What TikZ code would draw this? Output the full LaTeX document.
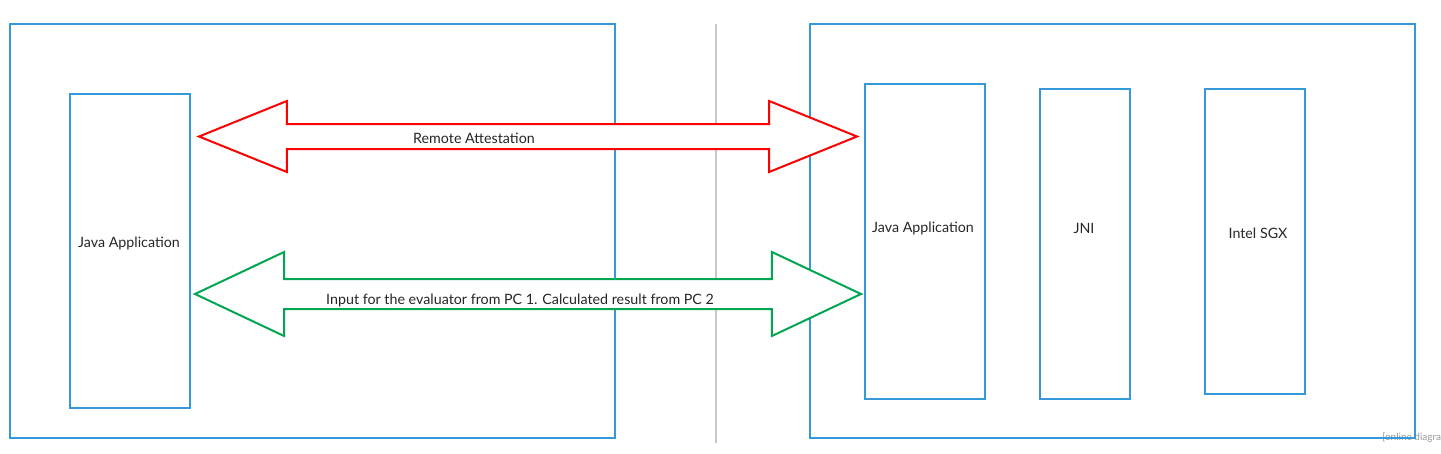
\documentclass[tikz,border=0pt]{standalone}
\usepackage{fontspec}
\setmainfont{Lato}
\usetikzlibrary{shapes.arrows}
\definecolor{boxblue}{HTML}{3498DB}
\definecolor{linkred}{HTML}{FF0000}
\definecolor{linkgreen}{HTML}{00A650}
\definecolor{divgray}{HTML}{C8C8C8}
\begin{document}
\begin{tikzpicture}[x=0.75pt, y=-0.75pt,
		pcbox/.style={draw=boxblue, line width=1.5pt, anchor=north west, inner sep=0pt, outer sep=0pt},
		label text/.style={font=\fontsize{10.7}{12}\selectfont, text=black!85, inner sep=0pt},
		link/.style={double arrow, draw, fill=white, line width=1.5pt, inner xsep=0pt, text height=0pt, text depth=0pt}]
	\useasboundingbox (0,0) rectangle (1441,453);
	\node[anchor=west, font=\fontsize{7.5}{8}\selectfont, text=black!40, inner sep=0pt] (wm) at (1382,438) {[online diagra};
	% PC 1
	\node[pcbox, minimum width=453.75pt, minimum height=310.5pt] (pc1) at (10,24) {};
	\node[pcbox, minimum width=90pt, minimum height=235.5pt] (java1) at (70,94) {};
	\node[label text] (java1t) at (129,243.5) {Java Application};
	% divider
	\coordinate (top) at (716,24);
	\coordinate (bot) at (716,443);
	\draw[divgray, line width=1.7pt] (top) -- (bot);
	% PC 2
	\node[pcbox, minimum width=453.75pt, minimum height=310.5pt] (pc2) at (810,24) {};
	\node[pcbox, minimum width=90pt, minimum height=236.25pt] (java2) at (865,84) {};
	\node[pcbox, minimum width=67.5pt, minimum height=232.5pt] (jni) at (1040,89) {};
	\node[pcbox, minimum width=75pt, minimum height=228.75pt] (sgx) at (1205,89) {};
	\node[label text] (java2t) at (923,228.5) {Java Application};
	\node[label text] (jnit) at (1084,228.5) {JNI};
	\node[label text] (sgxt) at (1258,233.5) {Intel SGX};
	% links
	\node[link, draw=linkred, minimum height=493.5pt, inner ysep=8.625pt,
		double arrow head extend=17.25pt, double arrow tip angle=44] (ra) at (528,136.5) {};
	\node[label text] (rat) at (474,138) {Remote Attestation};
	\node[link, draw=linkgreen, minimum height=499.5pt, inner ysep=10.5pt,
		double arrow head extend=20.25pt, double arrow tip angle=50.5] (io) at (528,294) {};
	\node[label text] (iot) at (520,300) {Input for the evaluator from PC 1. Calculated result from PC 2};
\end{tikzpicture}
\end{document}
